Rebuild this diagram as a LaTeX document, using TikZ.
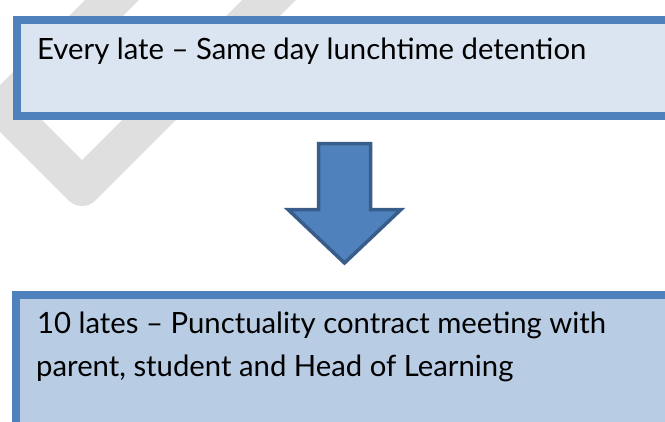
\documentclass[tikz,border=0pt]{standalone}
\usepackage{fontspec}
\setmainfont{Lato}
\definecolor{bord}{HTML}{4F81BD}
\definecolor{fillA}{HTML}{DBE5F1}
\definecolor{fillB}{HTML}{B8CCE4}
\definecolor{arrowedge}{HTML}{385D8A}
\definecolor{wm}{HTML}{DFDFDF}
\begin{document}
\begin{tikzpicture}[x=1pt,y=-1pt,
  box/.style={draw=bord, line width=8pt, rectangle, inner sep=0pt, anchor=north west},
  boxtext/.style={anchor=base west, inner sep=0pt, font=\fontsize{29.3}{43}\selectfont},
  blockarrow/.style={draw=arrowedge, fill=bord, line width=3.5pt, line join=miter}]
\useasboundingbox (0,0) rectangle (665,421);
\clip (0,0) rectangle (665,421);
% watermark
\draw[wm, line width=38pt, line join=round] (152,-40) -- (3.5,108.5) -- (82,187) -- (309,-40);
% boxes
\node[box, fill=fillA, minimum width=680pt, minimum height=96pt] (top) at (13,16) {};
\node[box, fill=fillB, minimum width=680pt, minimum height=160pt] (bottom) at (12,291) {};
% texts
\node[boxtext] (t1) at (37,59) {Every late – Same day lunchtime detention};
\node[boxtext] (b1) at (37,333) {10 lates – Punctuality contract meeting with};
\node[boxtext] (b2) at (36,376) {parent, student and Head of Learning};
% block arrow
\coordinate (a1) at (318.5,143.5);
\coordinate (a2) at (370.5,143.5);
\coordinate (a3) at (370.5,209.5);
\coordinate (a4) at (401,209.5);
\coordinate (tip) at (344.5,263);
\coordinate (a6) at (288,209.5);
\coordinate (a7) at (318.5,209.5);
\path[blockarrow] (a1) -- (a2) -- (a3) -- (a4) -- (tip) -- (a6) -- (a7) -- cycle;
\end{tikzpicture}
\end{document}
